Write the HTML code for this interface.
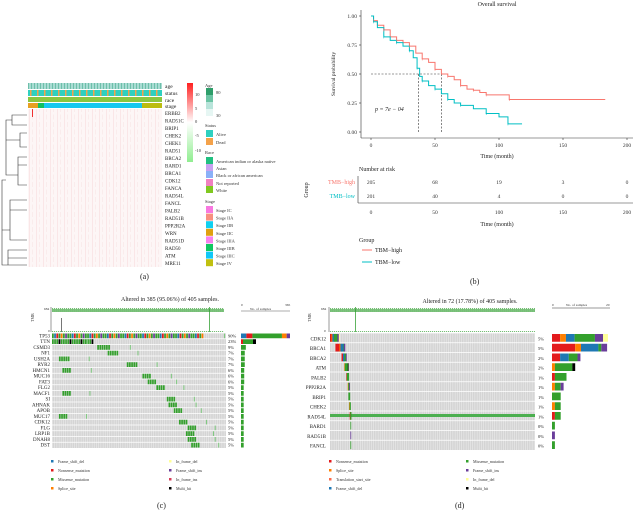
<!DOCTYPE html>
<html><head><meta charset="utf-8">
<style>
body{margin:0;background:#fff;}
svg{display:block;font-family:"Liberation Serif",serif;}
</style></head>
<body>
<svg id="fig" width="641" height="512" viewBox="0 0 641 512" xmlns="http://www.w3.org/2000/svg">
<defs>
<pattern id="hm" width="7" height="7.5" patternUnits="userSpaceOnUse">
<rect width="7" height="7.5" fill="#fdf6f6"/>
<rect x="1" y="0" width="0.5" height="7.5" fill="#f6d6d8"/>
<rect x="4.3" y="2" width="0.5" height="5" fill="#f9e2e3"/>
</pattern>
<pattern id="onc" width="2.2" height="10" patternUnits="userSpaceOnUse">
<rect width="2.2" height="10" fill="#d4d4d4"/>
<rect x="1.6" width="0.6" height="10" fill="#ececec"/>
</pattern>
<pattern id="tmb" width="2" height="24" patternUnits="userSpaceOnUse">
<rect x="0.3" y="19" width="0.8" height="5" fill="#3aa33a"/>
<rect x="1.3" y="21" width="0.6" height="3" fill="#3aa33a"/>
</pattern>
<pattern id="anno" width="3" height="6" patternUnits="userSpaceOnUse">
<rect width="3" height="6" fill="#a9dcd3"/>
<rect x="1" width="0.8" height="6" fill="#5fb8a0"/>
</pattern>
<pattern id="stat" width="7" height="6" patternUnits="userSpaceOnUse">
<rect width="7" height="6" fill="#2fd0c0"/>
<rect x="2" width="1.5" height="6" fill="#f4a24a"/>
</pattern>
</defs>

<!-- PANEL A -->
<g id="panelA">
<rect x="28" y="83" width="134" height="6" fill="url(#anno)"/>
<rect x="28" y="90" width="134" height="6" fill="url(#stat)"/>
<rect x="28" y="97" width="134" height="5" fill="#8cc63f"/>
<rect x="28" y="103" width="10" height="5" fill="#e8a020"/>
<rect x="38" y="103" width="6" height="5" fill="#10c060"/>
<rect x="44" y="103" width="98" height="5" fill="#16c8f0"/>
<rect x="142" y="103" width="20" height="5" fill="#bcbc10"/>
<rect x="28" y="109" width="134" height="158" fill="url(#hm)"/>
<rect x="32" y="109" width="1" height="8" fill="#f03030"/>
<g font-size="5.5" fill="#222">
<text x="165" y="88">age</text><text x="165" y="95">status</text><text x="165" y="102">race</text><text x="165" y="108">stage</text>
</g>
<g id="geneA" font-size="5" fill="#222"></g>
<g id="dendro" stroke="#333" stroke-width="0.6" fill="none">
<path d="M27 115H12V125H27M12 120H6V140H20V133H27M20 140V147H27M6 140V175H18V157H27M18 165H27M18 175V185H27M6 180H2V230H10V200H27M10 210H27M10 230V240H27M2 230V265H8V250H27M8 258H27M8 265H27"/>
</g>
<defs><linearGradient id="cb" x1="0" y1="0" x2="0" y2="1"><stop offset="0" stop-color="#ff2020"/><stop offset="0.5" stop-color="#ffffff"/><stop offset="1" stop-color="#90ee90"/></linearGradient></defs>
<rect x="187" y="83" width="6" height="79" fill="url(#cb)"/>
<g font-size="4.5" fill="#333"><text x="195" y="96">10</text><text x="195" y="110">5</text><text x="195" y="123">0</text><text x="195" y="137">-5</text><text x="195" y="152">-10</text></g>
<g id="legA" font-size="4.5" fill="#333">
<text x="205" y="87">Age</text>
<rect x="206" y="88" width="7" height="7" fill="#2e9e6a"/><rect x="206" y="95" width="7" height="7" fill="#6cc4a4"/><rect x="206" y="102" width="7" height="7" fill="#b8e4da"/><rect x="206" y="109" width="7" height="7" fill="#e6f6f3"/>
<text x="216" y="94">80</text><text x="216" y="117">30</text>
<text x="205" y="127">Status</text>
<rect x="206" y="130" width="7" height="7" fill="#2fd0c0"/><text x="216" y="136">Alive</text>
<rect x="206" y="138" width="7" height="7" fill="#f4a24a"/><text x="216" y="144">Dead</text>
<text x="205" y="154">Race</text>
<rect x="206" y="157" width="7" height="7" fill="#20c080"/><text x="216" y="163">American indian or alaska native</text>
<rect x="206" y="164" width="7" height="7" fill="#c8a0f0"/><text x="216" y="170">Asian</text>
<rect x="206" y="171" width="7" height="7" fill="#8ab0f8"/><text x="216" y="177">Black or african american</text>
<rect x="206" y="179" width="7" height="7" fill="#f080c0"/><text x="216" y="185">Not reported</text>
<rect x="206" y="186" width="7" height="7" fill="#80c820"/><text x="216" y="192">White</text>
<text x="205" y="203">Stage</text>
</g>
<text x="140" y="279" font-size="8" fill="#222">(a)</text>
</g>

<!-- PANEL B -->
<g id="panelB">
<text x="497" y="6" font-size="6" text-anchor="middle" fill="#222">Overall survival</text>
<g id="kmAxes"></g>
<g id="kmLines"></g>
<text x="375" y="111" font-size="6" font-style="italic" fill="#222">p = 7e − 04</text>
<text transform="translate(335,74) rotate(-90)" font-size="5.5" text-anchor="middle" fill="#222">Survival probability</text>
<text x="497" y="158" font-size="6" text-anchor="middle" fill="#222">Time (month)</text>
<text x="359" y="171" font-size="6" fill="#222">Number at risk</text>
<g id="risk"></g>
<text x="497" y="226" font-size="6" text-anchor="middle" fill="#222">Time (month)</text>
<text transform="translate(308,190) rotate(-90)" font-size="6" text-anchor="middle" fill="#222">Group</text>
<text x="359" y="242" font-size="6" fill="#222">Group</text>
<g><line x1="362" y1="250" x2="372" y2="250" stroke="#f8766d"/><text x="375" y="252" font-size="6" fill="#222">TBM−high</text></g>
<g><line x1="362" y1="262" x2="372" y2="262" stroke="#00bfc4"/><text x="375" y="264" font-size="6" fill="#222">TBM−low</text></g>
<text x="470" y="284" font-size="8" fill="#222">(b)</text>
</g>

<!-- PANEL C -->
<g id="panelC">
<text x="170" y="301" font-size="6" text-anchor="middle" fill="#222">Altered in 385 (95.06%) of 405 samples.</text>
<line x1="51" y1="307" x2="51" y2="332" stroke="#333" stroke-width="0.5"/>
<text x="44" y="310" font-size="3.5" fill="#333">684</text><text x="48" y="332" font-size="3.5" fill="#333">0</text>
<text transform="translate(34,322) rotate(-90)" font-size="4" fill="#333">TMB</text>
<rect x="52" y="308" width="172" height="24" fill="url(#tmb)"/>
<rect x="61" y="318" width="0.8" height="14" fill="#555"/><rect x="209" y="307" width="0.8" height="25" fill="#3aa33a"/>
<g id="oncC"></g>
<g id="legC" font-size="4" fill="#333"></g>
<text x="157" y="508" font-size="8" fill="#222">(c)</text>
</g>

<!-- PANEL D -->
<g id="panelD">
<text x="470" y="303" font-size="6" text-anchor="middle" fill="#222">Altered in 72 (17.78%) of 405 samples.</text>
<line x1="329" y1="307" x2="329" y2="332" stroke="#333" stroke-width="0.5"/>
<text x="321" y="310" font-size="3.5" fill="#333">684</text><text x="324" y="332" font-size="3.5" fill="#333">0</text>
<text transform="translate(311,322) rotate(-90)" font-size="4" fill="#333">TMB</text>
<rect x="330" y="308" width="205" height="24" fill="url(#tmb)"/>
<rect x="355" y="307" width="0.8" height="25" fill="#3aa33a"/>
<g id="oncD"></g>
<g id="legD" font-size="4" fill="#333"></g>
<text x="455" y="508" font-size="8" fill="#222">(d)</text>
</g>
</svg>

<script>
const NS='http://www.w3.org/2000/svg';
function mk(p,t,a,txt){const e=document.createElementNS(NS,t);for(const k in a)e.setAttribute(k,a[k]);if(txt!==undefined)e.textContent=txt;p.appendChild(e);return e;}

const genesA=['ERBB2','RAD51C','BRIP1','CHEK2','CHEK1','RAD51','BRCA2','BARD1','BRCA1','CDK12','FANCA','RAD54L','FANCL','PALB2','RAD51B','PPP2R2A','WRN','RAD51D','RAD50','ATM','MRE11'];
const gA=document.getElementById('geneA');
genesA.forEach((g,i)=>{const t=mk(gA,'text',{x:165,y:115+i*7.5},g);

});
const stageLab=['Stage IC','Stage IIA','Stage IIB','Stage IIC','Stage IIIA','Stage IIIB','Stage IIIC','Stage IV'];
const stageCol=['#f878e0','#f89080','#10d0f0','#e0a010','#f880f0','#10c860','#10c8f8','#c0c010'];
const lA=document.getElementById('legA');
stageLab.forEach((s,i)=>{mk(lA,'rect',{x:206,y:206+i*7.6,width:7,height:7,fill:stageCol[i]});mk(lA,'text',{x:216,y:212+i*7.6},s);});

const highT=[0,2,5,10,15,20,25,30,35,40,45,50,55,60,65,70,75,80,85,90,100,108,183];
const highS=[1,.96,.92,.88,.82,.79,.77,.74,.68,.63,.6,.54,.5,.48,.45,.4,.37,.36,.34,.32,.32,.28,.28];
const lowT=[0,2,5,10,15,20,25,30,33,36,38,40,45,50,55,60,65,70,80,90,100,107,118];
const lowS=[1,.95,.9,.82,.79,.77,.74,.7,.64,.55,.48,.44,.4,.37,.33,.28,.25,.23,.2,.16,.13,.07,.07];
const xTicks=[0,50,100,150,200];
const yTicks=[0,0.25,0.5,0.75,1];
const riskHigh=[205,68,19,3,0];
const riskLow=[201,40,4,0,0];
const medianHigh=55, medianLow=37;
const X=t=>371+t*(627-371)/200;
const Y=s=>132-s*116;
const ax=document.getElementById('kmAxes');
mk(ax,'line',{x1:361,y1:10,x2:361,y2:138,stroke:'#333','stroke-width':0.6});
mk(ax,'line',{x1:361,y1:138,x2:633,y2:138,stroke:'#333','stroke-width':0.6});
yTicks.forEach(v=>{mk(ax,'line',{x1:359,y1:Y(v),x2:361,y2:Y(v),stroke:'#333','stroke-width':0.6});mk(ax,'text',{x:357,y:Y(v)+2,'font-size':5.5,'text-anchor':'end',fill:'#333'},v.toFixed(2));});
xTicks.forEach(v=>{mk(ax,'line',{x1:X(v),y1:138,x2:X(v),y2:140,stroke:'#333','stroke-width':0.6});mk(ax,'text',{x:X(v),y:147,'font-size':5.5,'text-anchor':'middle',fill:'#333'},v);});
const kl=document.getElementById('kmLines');
mk(kl,'path',{d:`M${X(0)} ${Y(.5)}H${X(medianHigh)}M${X(medianLow)} ${Y(.5)}V${Y(0)}M${X(medianHigh)} ${Y(.5)}V${Y(0)}`,stroke:'#333','stroke-width':0.6,'stroke-dasharray':'2 1.5',fill:'none'});
function step(T,S){let d=`M${X(T[0])} ${Y(S[0])}`;for(let i=1;i<T.length;i++){d+=`H${X(T[i])}V${Y(S[i])}`;}return d;}
const ph=mk(kl,'path',{d:step(highT,highS),stroke:'#f8766d','stroke-width':1,fill:'none'});


const pl=mk(kl,'path',{d:step(lowT,lowS),stroke:'#00bfc4','stroke-width':1,fill:'none'});


highT.forEach((t,i)=>{if(i%2)mk(kl,'line',{x1:X(t),y1:Y(highS[i])-1.5,x2:X(t),y2:Y(highS[i])+1.5,stroke:'#f8766d','stroke-width':0.5});});
lowT.forEach((t,i)=>{if(i%2)mk(kl,'line',{x1:X(t),y1:Y(lowS[i])-1.5,x2:X(t),y2:Y(lowS[i])+1.5,stroke:'#00bfc4','stroke-width':0.5});});
const rk=document.getElementById('risk');
mk(rk,'line',{x1:358,y1:176,x2:358,y2:203,stroke:'#333','stroke-width':0.6});
mk(rk,'line',{x1:358,y1:203,x2:633,y2:203,stroke:'#333','stroke-width':0.6});
mk(rk,'text',{x:355,y:184,'font-size':6,'text-anchor':'end',fill:'#f8766d'},'TMB−high');
mk(rk,'text',{x:355,y:198,'font-size':6,'text-anchor':'end',fill:'#00bfc4'},'TMB−low');
xTicks.forEach((v,i)=>{
mk(rk,'text',{x:X(v),y:184,'font-size':5.5,'text-anchor':'middle',fill:'#333'},riskHigh[i]);
mk(rk,'text',{x:X(v),y:198,'font-size':5.5,'text-anchor':'middle',fill:'#333'},riskLow[i]);
mk(rk,'text',{x:X(v),y:214,'font-size':5.5,'text-anchor':'middle',fill:'#333'},v);});

const C={fsd:'#1f78b4',non:'#e31a1c',mis:'#33a02c',spl:'#ff7f00',fsi:'#6a3d9a',ifi:'#d43f5a',ifd:'#ffff99',mh:'#000000',tss:'#fb6a4a'};
const genesC=['TP53','TTN','CSMD3','NF1','USH2A','RYR2','HMCN1','MUC16','FAT3','FLG2','MACF1','SI','AHNAK','APOB','MUC17','CDK12','FLG','LRP1B','DNAH8','DST'];
const pctC=['90%','23%','9%','7%','7%','7%','6%','6%','6%','5%','5%','5%','5%','5%','5%','5%','5%','5%','5%','5%'];
const cntC=[365,93,36,28,28,28,24,24,24,20,20,20,20,20,20,20,20,20,20,20];
const startC=[0,0,26,32,4,43,6,52,55,60,6,66,67,70,4,73,78,77,78,80];
const genesD=['CDK12','BRCA1','BRCA2','ATM','PALB2','PPP2R2A','BRIP1','CHEK2','RAD54L','BARD1','RAD51B','FANCL'];
const pctD=['5%','5%','2%','2%','1%','1%','1%','1%','1%','0%','0%','0%'];
const segTypesD=['non','spl','fsd','mis','fsi','ifd','mh'];
const segD=[[2.8,2,3,7,2.8,1.7,0],[8,2,6,1,2,0,0],[2.8,0,3,3,1,0,0],[0,1,0,6,0,0,1],[1,0,0,4,0,0,0],[0,1,0,2,1,0,0],[0,0,0,3,0,0,0],[0,1,0,2,0,0,0],[1,0,0,2,0,0,0],[0,0,0,1,0,0,0],[0,0,0,0,1,0,0],[0,0,0,1,0,0,0]];
const startD=[0,8,17,21,24,26,27,28,29,30,30,30];

function onco(gid,genes,pct,x0,w,y0,h,labelX,pctX){
const g=document.getElementById(gid);
const rh=h/genes.length;
mk(g,'rect',{x:x0,y:y0,width:w,height:h,fill:'url(#onc)'});
genes.forEach((gn,i)=>{
 const y=y0+i*rh;
 mk(g,'line',{x1:x0,y1:y,x2:x0+w,y2:y,stroke:'#fff','stroke-width':0.7});
 const t=mk(g,'text',{x:labelX,y:y+rh*0.75,'font-size':Math.min(5,rh*0.9),'text-anchor':'end',fill:'#222'},gn);
 
 
 mk(g,'text',{x:pctX,y:y+rh*0.75,'font-size':Math.min(4.5,rh*0.85),fill:'#222'},pct[i]);
});
return rh;}

const rhC=onco('oncC',genesC,pctC,52,174,333,115,50,228);
const gC=document.getElementById('oncC');
genesC.forEach((gn,i)=>{
 const y=333+i*rhC+0.5;
 const s=52+startC[i]*1.74;
 const len=i===0?152:(i===1?50*0.3:Math.max(3,cntC[i]*0.35));
 if(i===0){const cols=[C.mis,C.fsd,C.non,C.mis,C.spl,C.mis,C.fsi,C.mis];for(let k=0;k<Math.floor(len/2.2);k++)mk(gC,'rect',{x:s+k*2.2,y,width:1.7,height:rhC-1,fill:cols[k%cols.length]});}
 else{const L=i===1?40:len;for(let k=0;k<L/2.2;k++)mk(gC,'rect',{x:s+k*2.2,y,width:1.7,height:rhC-1,fill:(i===1&&k%5==3)?C.mh:C.mis});}
 mk(gC,'rect',{x:s+len+20,y,width:1,height:rhC-1,fill:'#7fc97f'});
});
mk(gC,'text',{x:241,y:306,'font-size':3.5,fill:'#333'},'0');
mk(gC,'text',{x:285,y:306,'font-size':3.5,fill:'#333'},'365');
mk(gC,'text',{x:250,y:310,'font-size':3.5,fill:'#333'},'No. of samples');
mk(gC,'line',{x1:241,y1:311,x2:290,y2:311,stroke:'#333','stroke-width':0.4});
const bsC=49/365;
cntC.forEach((c,i)=>{
 const y=333+i*rhC+0.5;
 if(i===0){let x=241;[[40,C.fsd],[45,C.non],[220,C.mis],[35,C.spl],[25,C.fsi]].forEach(([v,col])=>{mk(gC,'rect',{x,y,width:v*bsC,height:rhC-1,fill:col});x+=v*bsC;});}
 else if(i===1){mk(gC,'rect',{x:241,y,width:2,height:rhC-1,fill:C.non});mk(gC,'rect',{x:243,y,width:10,height:rhC-1,fill:C.mis});mk(gC,'rect',{x:253,y,width:3,height:rhC-1,fill:C.mh});}
 else{const b=mk(gC,'rect',{x:241,y,width:c*bsC,height:rhC-1,fill:C.mis});}
});

const rhD=onco('oncD',genesD,pctD,330,205,333,117,326,538);
const gD=document.getElementById('oncD');
mk(gD,'rect',{x:330,y:333+8*rhD+3,width:205,height:3,fill:'#4caf50'});
const bsD=(610-552)/20;
mk(gD,'text',{x:552,y:306,'font-size':3.5,fill:'#333'},'0');
mk(gD,'text',{x:606,y:306,'font-size':3.5,fill:'#333'},'20');
mk(gD,'text',{x:566,y:306,'font-size':3.5,fill:'#333'},'No. of samples');
mk(gD,'line',{x1:552,y1:308,x2:610,y2:308,stroke:'#999','stroke-width':1});
segD.forEach((segs,i)=>{
 const y=333+i*rhD+1;
 let x=552,tot=0;
 segs.forEach((v,j)=>{if(v>0){const b=mk(gD,'rect',{x,y,width:v*bsD,height:rhD-2,fill:C[segTypesD[j]]});
  
  x+=v*bsD;tot+=v;}});
 const sx=330+startD[i]*0.68;
 let xx=sx;segs.forEach((v,j)=>{if(v>0){mk(gD,'rect',{x:xx,y,width:v*0.5+0.3,height:rhD-2,fill:C[segTypesD[j]]});xx+=v*0.5;}});
});

function legend(gid,items,x1,x2,y0){
 const g=document.getElementById(gid);
 items.forEach((it,i)=>{const x=i<4?x1:x2,y=y0+(i%4)*9;
 mk(g,'rect',{x,y:y-3,width:2.5,height:2.5,fill:it[1]});
 const t=mk(g,'text',{x:x+7,y},it[0]);
 
 });
}
legend('legC',[['Frame_shift_del',C.fsd],['Nonsense_mutation',C.non],['Missense_mutation',C.mis],['Splice_site',C.spl],['In_frame_del',C.ifd],['Frame_shift_ins',C.fsi],['In_frame_ins',C.ifi],['Multi_hit',C.mh]],51,169,463);
legend('legD',[['Nonsense_mutation',C.non],['Splice_site',C.spl],['Translation_start_site',C.tss],['Frame_shift_del',C.fsd],['Missense_mutation',C.mis],['Frame_shift_ins',C.fsi],['In_frame_del',C.ifd],['Multi_hit',C.mh]],329,466,463);
</script>
</body></html>
